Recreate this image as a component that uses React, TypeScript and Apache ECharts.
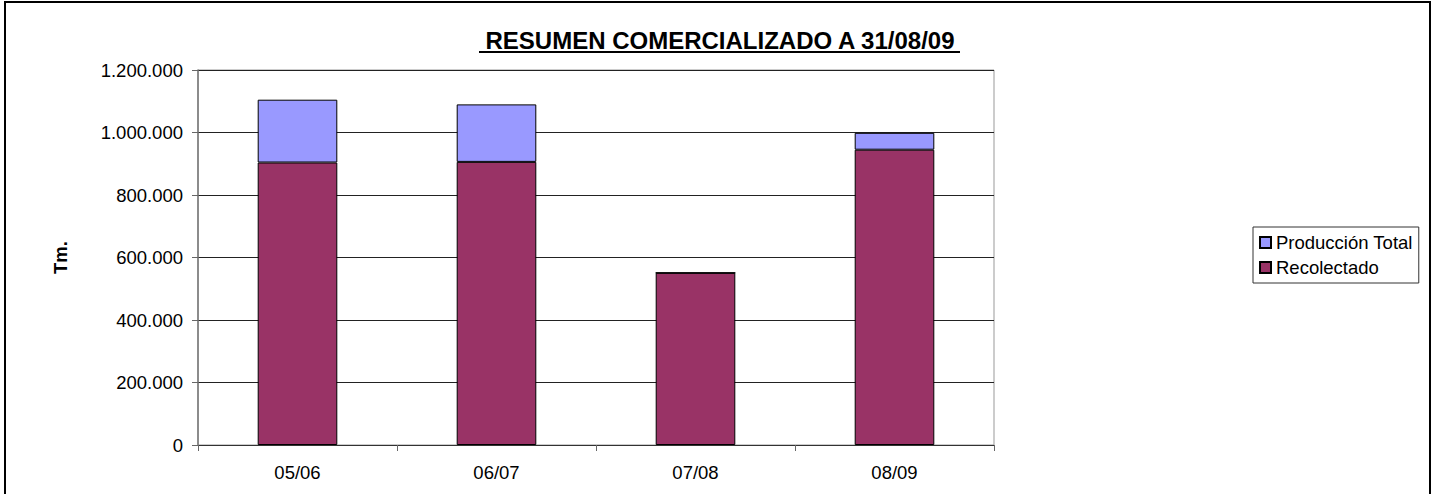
import React, { useEffect, useRef } from "react";
import * as echarts from "echarts";

const categories = ["05/06", "06/07", "07/08", "08/09"];
const recolectado = [904000, 906000, 551000, 945000];
const produccionTotalRestante = [201000, 184000, 0, 54000];
const yTicks = { min: 0, max: 1200000, interval: 200000 };
const titleText = "RESUMEN COMERCIALIZADO A 31/08/09";
const yAxisName = "Tm.";
const legendNames = ["Producción Total", "Recolectado"];

const FONT = "'Liberation Sans', Arial, sans-serif";

function fmt(v: number): string {
  return String(Math.round(v)).replace(/\B(?=(\d{3})+(?!\d))/g, ".");
}

export default function App() {
  const ref = useRef<HTMLDivElement>(null);
  useEffect(() => {
    if (!ref.current) return;
    const chart = echarts.init(ref.current, undefined, { renderer: "svg" });
    chart.setOption({
      animation: false,
      backgroundColor: "#ffffff",
      textStyle: { fontFamily: FONT },
      graphic: [
        {
          type: "rect",
          shape: { x: 5, y: 2, width: 1425, height: 530 },
          style: { fill: "none", stroke: "#000", lineWidth: 2 },
          silent: true,
          z: 100,
        },
        {
          type: "text",
          x: 720,
          y: 40,
          style: {
            text: titleText,
            fontFamily: FONT,
            fontWeight: "bold",
            fontSize: 24,
            fill: "#000",
            align: "center",
            verticalAlign: "middle",
          },
        },
        {
          type: "rect",
          shape: { x: 479, y: 51, width: 481, height: 2 },
          style: { fill: "#000" },
        },
      ],
      legend: {
        orient: "vertical",
        left: 1253,
        top: 227,
        data: legendNames,
        itemWidth: 11,
        itemHeight: 11,
        itemGap: 6,
        padding: [6, 6, 6, 6],
        borderColor: "#333",
        borderWidth: 1,
        textStyle: { fontFamily: FONT, fontSize: 18.5, color: "#000", lineHeight: 19 },
        icon: "rect",
      },
      grid: {
        left: 198,
        right: 443,
        top: 70,
        bottom: 49,
        show: true,
        borderColor: "#999",
        borderWidth: 1,
      },
      xAxis: {
        type: "category",
        data: categories,
        boundaryGap: true,
        axisLine: { lineStyle: { color: "#333", width: 1 } },
        axisTick: { show: true, length: 6, lineStyle: { color: "#666" } },
        axisLabel: { margin: 18, fontFamily: FONT, fontSize: 18.5, color: "#000" },
        splitLine: { show: false },
      },
      yAxis: {
        type: "value",
        min: yTicks.min,
        max: yTicks.max,
        interval: yTicks.interval,
        name: yAxisName,
        nameLocation: "middle",
        nameGap: 128,
        nameTextStyle: { fontFamily: FONT, fontWeight: "bold", fontSize: 18.5, color: "#000" },
        axisLine: { show: true, lineStyle: { color: "#777", width: 1.5 } },
        axisTick: { show: true, length: 6, lineStyle: { color: "#666" } },
        axisLabel: { margin: 15, fontFamily: FONT, fontSize: 18.5, color: "#000", formatter: (v: number) => fmt(v) },
        splitLine: { show: true, lineStyle: { color: "#222", width: 1 } },
      },
      series: [
        {
          name: "Recolectado",
          type: "bar",
          stack: "total",
          data: recolectado,
          barWidth: "40%",
          itemStyle: { color: "#993366", borderColor: "#000", borderWidth: 1 },
        },
        {
          name: "Producción Total",
          type: "bar",
          stack: "total",
          data: produccionTotalRestante,
          barWidth: "40%",
          itemStyle: { color: "#9999FF", borderColor: "#000", borderWidth: 1 },
        },
      ],
    });
    return () => chart.dispose();
  }, []);
  return (
    <div
      ref={ref}
      style={{ position: "fixed", left: 0, top: 0, width: 1437, height: 494 }}
    />
  );
}
